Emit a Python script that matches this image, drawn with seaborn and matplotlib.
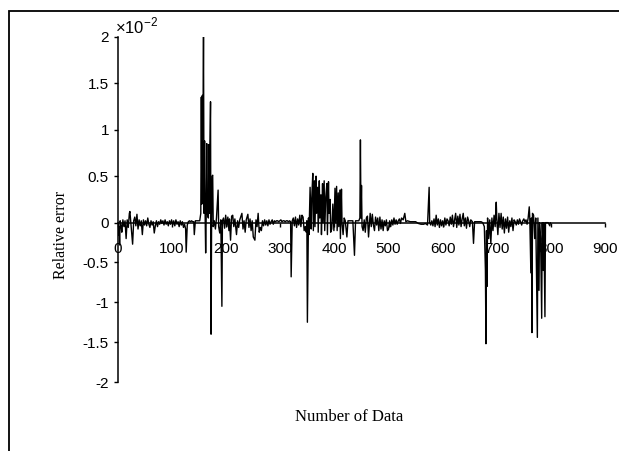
import numpy as np
import matplotlib
matplotlib.use("Agg")
import matplotlib.pyplot as plt
import matplotlib.patches as patches
import seaborn as sns

# data (values are in units of 1e-2)
n_data = [0, 1, 2, 3, 4, 6, 7, 9, 11, 13, 15, 17, 19, 21, 22, 24, 27, 29, 31, 33, 35, 37, 39, 41, 43, 45,
          47, 49, 51, 53, 55, 57, 59, 61, 63, 65, 67, 69, 71, 73, 75, 77, 79, 81, 83, 85, 87, 89, 91, 93, 95,
          97, 99, 101, 103, 105, 107, 109, 111, 113, 115, 117, 119, 121, 123, 125, 126, 128, 130, 132, 134,
          136, 138, 140, 141, 143, 145, 147, 149, 151, 153, 154, 155, 156, 157, 158, 159, 160, 161, 162, 163,
          164, 165, 167, 168, 169, 170, 171, 172, 173, 174, 175, 176, 178, 180, 182, 185, 186, 188, 190, 192,
          193, 195, 197, 199, 201, 203, 205, 206, 208, 210, 212, 214, 216, 219, 221, 223, 225, 229, 231, 233,
          235, 237, 240, 242, 244, 246, 248, 250, 253, 255, 257, 259, 261, 263, 265, 267, 269, 271, 273, 275,
          277, 279, 281, 283, 285, 287, 289, 291, 293, 295, 297, 299, 301, 303, 305, 307, 309, 311, 313, 315,
          317, 319, 320, 322, 324, 326, 328, 330, 332, 334, 336, 338, 340, 342, 344, 346, 348, 349, 350, 352,
          353, 355, 357, 358, 360, 361, 363, 364, 366, 367, 369, 370, 372, 373, 375, 376, 378, 379, 381, 382,
          384, 386, 387, 389, 390, 392, 393, 395, 397, 399, 401, 402, 404, 405, 407, 408, 410, 411, 413, 414,
          416, 418, 420, 423, 425, 428, 431, 434, 437, 439, 442, 445, 447, 448, 449, 450, 451, 453, 455, 457,
          459, 461, 463, 465, 466, 468, 470, 472, 474, 476, 478, 480, 482, 484, 486, 488, 490, 492, 494, 496,
          498, 500, 502, 504, 506, 508, 510, 512, 514, 516, 518, 520, 522, 524, 527, 530, 532, 535, 540, 545,
          550, 555, 560, 565, 568, 572, 575, 576, 578, 580, 582, 584, 586, 588, 590, 592, 594, 596, 598, 600,
          602, 604, 606, 608, 610, 612, 614, 616, 618, 620, 622, 624, 626, 628, 630, 632, 634, 636, 638, 640,
          642, 644, 646, 648, 650, 652, 655, 657, 659, 662, 665, 668, 671, 674, 677, 679, 680, 681, 682, 683,
          685, 687, 689, 691, 693, 695, 697, 699, 700, 702, 704, 706, 708, 710, 712, 714, 716, 718, 720, 722,
          724, 726, 728, 730, 732, 734, 736, 738, 740, 742, 744, 746, 748, 750, 752, 754, 756, 758, 760, 761,
          763, 764, 765, 766, 768, 770, 772, 775, 776, 778, 779, 781, 783, 784, 786, 787, 789, 790, 795, 798,
          799]
rel_err = [0.0, -0.16, -0.05, -0.28, 0.02, -0.05, -0.12, 0.03, -0.05, 0.02, -0.2, 0.03, -0.06, 0.1, 0.12,
           -0.03, -0.27, 0.02, 0.06, -0.04, 0.09, -0.08, 0.03, -0.04, 0.02, -0.15, 0.03, -0.03, 0.02, -0.04,
           0.05, -0.02, -0.06, 0.02, -0.03, 0.01, -0.13, -0.04, 0.02, -0.05, 0.01, -0.02, 0.03, -0.01, 0.02,
           -0.03, 0.03, -0.02, 0.01, -0.04, 0.02, -0.02, 0.03, -0.03, 0.02, -0.04, 0.03, -0.02, 0.01, -0.05,
           0.02, -0.03, 0.01, -0.06, -0.02, -0.08, -0.37, -0.03, 0.01, 0.02, 0.01, 0.02, 0.01, 0.01, -0.15,
           0.02, 0.02, 0.02, 0.02, 0.02, 0.1, 1.35, 0.2, 1.37, 0.9, 2.0, 0.1, 0.88, 0.1, -0.38, 0.08, 0.85,
           0.1, 0.05, 0.84, 0.1, 0.86, 1.3, -1.4, 0.05, 0.5, 0.51, -0.05, 0.02, -0.08, 0.05, 0.35, -0.05,
           -0.13, 0.03, -1.05, 0.02, 0.05, -0.07, 0.08, -0.05, 0.06, -0.1, 0.04, -0.22, 0.07, 0.08, -0.05,
           0.04, -0.15, 0.02, -0.06, 0.03, 0.1, -0.08, 0.02, -0.12, 0.03, 0.09, -0.06, 0.04, -0.1, 0.02,
           -0.18, -0.22, 0.03, -0.05, 0.1, -0.12, -0.06, -0.1, 0.02, -0.04, 0.03, -0.03, 0.02, -0.04, 0.03,
           -0.02, 0.01, 0.03, -0.02, 0.02, 0.01, 0.02, 0.02, 0.01, 0.02, 0.03, 0.01, 0.02, 0.02, 0.01, 0.02,
           0.02, 0.01, 0.02, 0.01, -0.68, 0.02, 0.05, -0.04, 0.06, -0.06, 0.04, -0.03, 0.08, -0.05, 0.08,
           0.06, -0.1, -0.05, -0.12, 0.02, -1.25, 0.05, -0.15, 0.38, -0.08, 0.25, 0.53, -0.1, 0.45, -0.05,
           0.5, 0.1, 0.38, -0.12, 0.45, 0.05, 0.3, -0.15, 0.42, 0.0, 0.45, -0.1, 0.28, 0.42, -0.15, 0.44,
           0.1, 0.25, -0.12, -0.08, 0.2, -0.1, 0.37, 0.0, 0.39, -0.1, 0.32, -0.05, 0.35, -0.2, 0.36, 0.0,
           -0.15, 0.05, 0.02, -0.18, 0.02, 0.02, 0.02, 0.02, -0.41, 0.02, 0.02, 0.02, 0.05, 0.89, 0.05, 0.4,
           -0.05, -0.1, 0.03, -0.12, 0.05, 0.07, -0.18, 0.02, 0.1, -0.05, 0.09, -0.03, -0.1, 0.06, -0.03,
           0.05, -0.1, 0.06, -0.08, 0.03, -0.1, 0.02, -0.04, 0.03, -0.1, -0.08, 0.02, -0.05, 0.03, -0.03,
           0.05, -0.02, 0.03, -0.02, 0.02, 0.04, -0.01, 0.05, 0.03, 0.1, 0.01, 0.02, 0.01, 0.01, 0.01, -0.01,
           -0.02, -0.02, -0.01, -0.03, 0.38, 0.0, -0.03, 0.02, -0.04, 0.04, -0.05, 0.08, -0.03, 0.04, -0.06,
           0.03, -0.04, 0.02, -0.05, 0.05, -0.03, 0.04, 0.02, -0.04, 0.06, -0.02, 0.08, -0.05, 0.03, 0.1,
           -0.06, 0.07, -0.03, 0.09, -0.05, 0.04, 0.1, -0.04, 0.05, -0.07, 0.06, 0.02, -0.05, 0.03, 0.01,
           -0.26, 0.01, 0.01, 0.01, 0.01, 0.01, 0.0, -0.05, -0.6, -1.52, -0.1, -0.8, 0.05, -0.2, 0.03, -0.26,
           0.05, -0.1, 0.08, -0.05, 0.22, 0.05, -0.15, 0.1, -0.06, 0.1, -0.08, 0.06, -0.13, 0.04, -0.07,
           0.06, -0.12, 0.02, -0.05, 0.05, -0.1, 0.03, 0.01, -0.03, 0.03, -0.02, 0.04, 0.01, -0.03, 0.02,
           0.04, 0.01, 0.03, -0.02, 0.05, 0.17, 0.05, -0.63, 0.05, -1.38, 0.1, 0.08, -0.2, 0.05, -1.44, 0.05,
           -0.85, 0.0, -0.2, -1.2, 0.0, -0.6, 0.0, -1.18, 0.0, 0.0, -0.04, 0.0]

x_ticks = [0, 100, 200, 300, 400, 500, 600, 700, 800, 900]
y_ticks = [-2, -1.5, -1, -0.5, 0, 0.5, 1, 1.5, 2]
y_labels = ['-2', '-1.5', '-1', '-0.5', '0', '0.5', '1', '1.5', '2']

sns.set_theme(style="white")
plt.rcParams['font.family'] = ['Liberation Sans', 'DejaVu Sans']
plt.rcParams['axes.unicode_minus'] = False
plt.rcParams['mathtext.fontset'] = 'custom'
plt.rcParams['mathtext.rm'] = 'Liberation Sans'

# lower half of the axis is squeezed in the original
NEG = 0.857
def fwd(v):
    v = np.asarray(v, dtype=float)
    return np.where(v >= 0, v, v * NEG)
def inv(v):
    v = np.asarray(v, dtype=float)
    return np.where(v >= 0, v, v / NEG)

W, H = 619, 451
fig = plt.figure(figsize=(W / 100, H / 100), dpi=100)
fig.patch.set_facecolor('white')
left, right, top, bottom = 118, 605, 36.7, 382
ax = fig.add_axes([left / W, 1 - bottom / H, (right - left) / W, (bottom - top) / H])
ax.set_facecolor('white')

sns.lineplot(x=n_data, y=rel_err, ax=ax, color='black', linewidth=1.0, estimator=None, sort=False)

ax.set_yscale('function', functions=(fwd, inv))
ax.set_xlim(0, 900)
ax.set_ylim(-2, 2)
ax.set_xticks(x_ticks)
ax.set_xticklabels([str(t) for t in x_ticks])
ax.set_yticks(y_ticks)
ax.set_yticklabels(y_labels)
ax.minorticks_off()

for s in ['top', 'right']:
    ax.spines[s].set_visible(False)
ax.spines['bottom'].set_position(('data', 0))
ax.spines['left'].set_color('black')
ax.spines['bottom'].set_color('black')
ax.spines['left'].set_linewidth(1.1)
ax.spines['bottom'].set_linewidth(1.1)

ax.tick_params(axis='x', direction='out', length=3, width=1, colors='black', pad=11, labelsize=11, bottom=True)
ax.tick_params(axis='y', direction='out', length=3, width=1, colors='black', pad=3.5, labelsize=11, left=True)

ax.set_xlabel('Number of Data', family=['Liberation Serif'], fontsize=12, color='black')
ax.xaxis.set_label_coords((349.5 - left) / (right - left), -(417 - bottom) / (bottom - top))
ax.xaxis.label.set_verticalalignment('center')
ax.set_ylabel('Relative error', family=['Liberation Serif'], fontsize=11.5, color='black')
ax.yaxis.set_label_coords((61 - left) / (right - left), (bottom - 235) / (bottom - top))
ax.yaxis.label.set_verticalalignment('center')

fig.text(115 / W, 1 - 33 / H, r'$\times10^{-2}$', fontsize=12, color='black', va='baseline', ha='left')

# outer frame (cut off at the right and bottom edges)
fig.add_artist(patches.Rectangle((8.5 / W, -0.2), 1.5, 1.2 - 10.7 / H, transform=fig.transFigure,
                                 fill=False, edgecolor='black', linewidth=1.3, clip_on=False))

fig.savefig('out.png', dpi=100, facecolor='white')
